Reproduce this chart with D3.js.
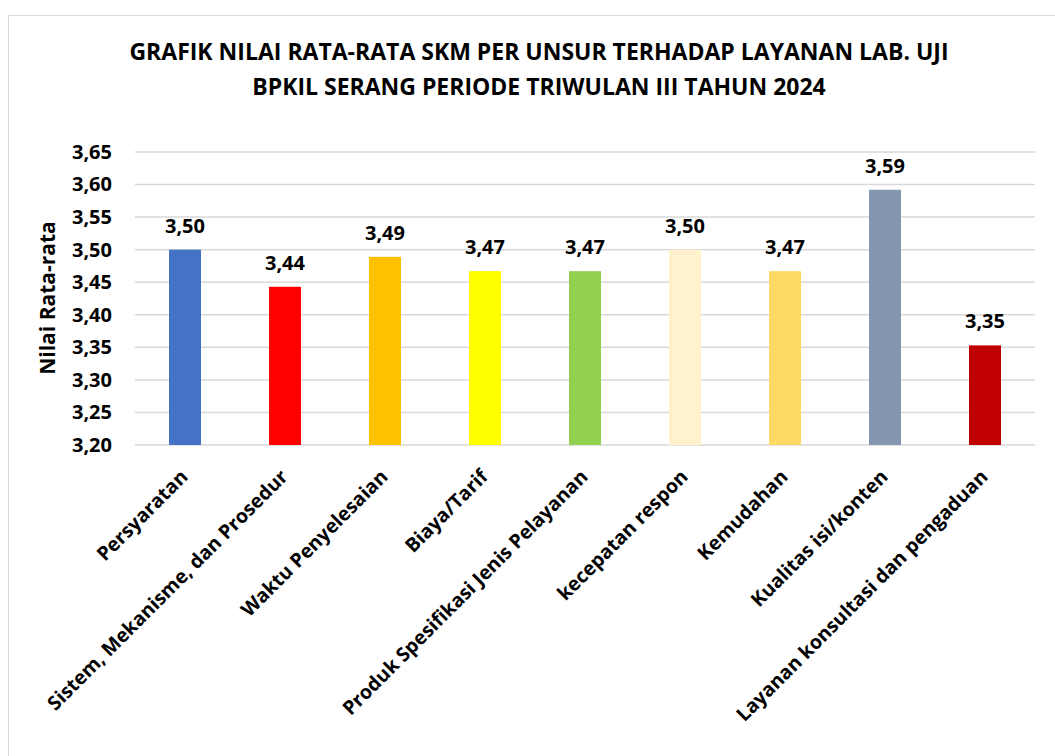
<!DOCTYPE html>
<html>
<head>
<meta charset="utf-8">
<script src="https://cdn.jsdelivr.net/npm/d3@7"></script>
<style>
  body { margin: 0; background: #fff; }
  svg { display: block; font-family: "Open Sans", sans-serif; font-weight: bold; }
</style>
</head>
<body>
<svg id="chart" width="1055" height="756"></svg>
<script>
const categories = [
  'Persyaratan',
  'Sistem, Mekanisme, dan Prosedur',
  'Waktu Penyelesaian',
  'Biaya/Tarif',
  'Produk Spesifikasi Jenis Pelayanan',
  'kecepatan respon',
  'Kemudahan',
  'Kualitas isi/konten',
  'Layanan konsultasi dan pengaduan'
]
const values = [3.50, 3.443, 3.489, 3.467, 3.467, 3.50, 3.467, 3.592, 3.353]
const colors = ['#4472C4', '#FF0000', '#FFC000', '#FFFF00', '#92D050', '#FFF2CC', '#FFD966', '#8497B0', '#C00000']
const yTicks = [3.20, 3.25, 3.30, 3.35, 3.40, 3.45, 3.50, 3.55, 3.60, 3.65]
const titleLines = [
  'GRAFIK NILAI RATA-RATA SKM PER UNSUR TERHADAP LAYANAN LAB. UJI',
  'BPKIL SERANG PERIODE TRIWULAN III TAHUN 2024'
]

const svg = d3.select('#chart')
const margin = { top: 152, right: 20, bottom: 311, left: 135 }
const width = 1035 - margin.left
const height = 445 - margin.top

const fmt = (v) => d3.format('.2f')(v).replace('.', ',')

// chart frame
svg.append('rect')
  .attr('x', 8.5).attr('y', 15.5)
  .attr('width', 1100).attr('height', 800)
  .attr('fill', 'none')
  .attr('stroke', '#d9d9d9')

svg.append('g')
  .selectAll('text')
  .data(titleLines)
  .join('text')
  .attr('x', 539)
  .attr('y', (d, i) => 60 + i * 35)
  .attr('text-anchor', 'middle')
  .attr('font-size', 23)
  .attr('fill', '#000')
  .text((d) => d)

const g = svg.append('g').attr('transform', `translate(${margin.left},${margin.top})`)

const x = d3.scaleBand().domain(categories).range([0, width])
  .paddingInner(0.68).paddingOuter(0.34)
const y = d3.scaleLinear().domain([3.20, 3.65]).range([height, 0])

// gridlines
g.append('g')
  .selectAll('line')
  .data(yTicks)
  .join('line')
  .attr('x1', 0)
  .attr('x2', width)
  .attr('y1', (d) => y(d))
  .attr('y2', (d) => y(d))
  .attr('stroke', '#d9d9d9')
  .attr('stroke-width', 1.5)

const yAxis = g.append('g')
  .call(d3.axisLeft(y).tickValues(yTicks).tickFormat(fmt).tickSize(0).tickPadding(23))
yAxis.select('.domain').remove()
yAxis.selectAll('text')
  .attr('font-size', 20)
  .attr('font-family', '"Open Sans", sans-serif')
  .attr('font-weight', 'bold')
  .attr('fill', '#000')

g.selectAll('.bar')
  .data(values)
  .join('rect')
  .attr('class', 'bar')
  .attr('x', (d, i) => x(categories[i]))
  .attr('width', x.bandwidth())
  .attr('y', (d) => y(d))
  .attr('height', (d) => height - y(d))
  .attr('fill', (d, i) => colors[i])

g.selectAll('.val')
  .data(values)
  .join('text')
  .attr('class', 'val')
  .attr('x', (d, i) => x(categories[i]) + x.bandwidth() / 2)
  .attr('y', (d) => y(d) - 17)
  .attr('text-anchor', 'middle')
  .attr('font-size', 20)
  .text(fmt)

// category labels rotated
g.append('g')
  .selectAll('text')
  .data(categories)
  .join('text')
  .attr('text-anchor', 'end')
  .attr('font-size', 19.5)
  .attr('transform', (d) => `translate(${x(d) + x.bandwidth() / 2 + 4},${height + 33}) rotate(-45)`)
  .text((d) => d)

svg.append('text')
  .attr('transform', 'translate(55,298) rotate(-90)')
  .attr('text-anchor', 'middle')
  .attr('font-size', 21)
  .text('Nilai Rata-rata')
</script>
</body>
</html>
